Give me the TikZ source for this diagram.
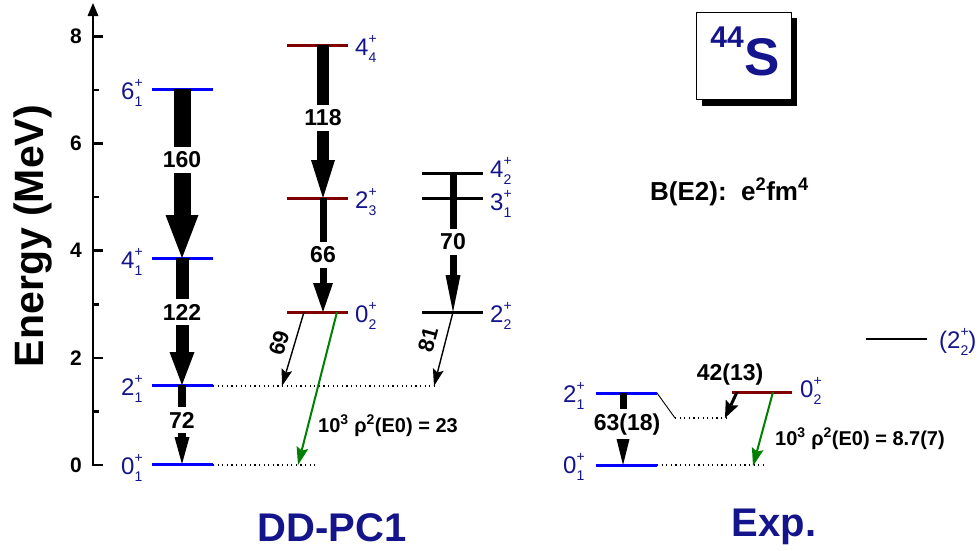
\documentclass[tikz,border=0pt]{standalone}
\usepackage{fontspec}
\setmainfont{Liberation Sans}
\usetikzlibrary{arrows.meta}
\definecolor{navy}{RGB}{20,20,140}
\definecolor{lvblue}{RGB}{0,0,255}
\definecolor{lvred}{RGB}{128,0,0}
\definecolor{lvgreen}{RGB}{0,128,0}
\newcommand\fs[1]{\fontsize{#1}{#1}\selectfont}
\newcommand\lv[2]{#1\rlap{\raisebox{0.48em}{\fs{14}+}}\raisebox{-0.3em}{\fs{14}#2}}
\tikzset{
  axisline/.style={line width=2.6pt},
  ticklbl/.style={font=\fs{21}\bfseries, inner sep=0pt, anchor=east},
  bluelvl/.style={lvblue, line width=3pt},
  redlvl/.style={lvred, line width=3pt},
  blacklvl/.style={black, line width=3pt},
  lbl/.style={text=navy, font=\fs{24}, inner sep=0pt, anchor=base west},
  alab/.style={fill=white, font=\fs{23}\bfseries, inner xsep=1pt, inner ysep=4.5pt},
  barrow/.style n args={3}{draw=black, line width=#1, -{Triangle[width=#2,length=#3,line width=0pt]}},
  thinarr/.style={draw=black, line width=1.4pt, -{Stealth[width=11pt,length=17pt,inset=3pt,line width=0pt]}},
  greenarr/.style={draw=lvgreen, line width=2pt, -{Stealth[width=12pt,length=18pt,inset=3pt,line width=0pt]}},
  dots/.style={line width=1.2pt, dash pattern=on 1.2pt off 3.4pt},
  titlelbl/.style={text=navy, font=\fs{40}\bfseries, inner sep=0pt, anchor=base},
}
\begin{document}
\begin{tikzpicture}[x=1pt,y=-1pt]
\useasboundingbox (0,0) rectangle (979,550);

% axis
\coordinate (ax0) at (93,466);
\coordinate (axtop) at (93,3);
\draw[axisline, -{Triangle[width=11pt,length=13pt,line width=0pt]}] (ax0) -- (axtop);
\foreach \e in {0,2,4,6,8}{
  \draw[axisline] (93,{465-53.6*\e}) -- (103,{465-53.6*\e});
  \node[ticklbl] (tk\e) at (82,{465-53.6*\e}) {\e};
}
\foreach \e in {1,3,5,7}{
  \draw[axisline] (93,{465-53.6*\e}) -- (99,{465-53.6*\e});
}
\node[rotate=90, anchor=base, inner sep=0pt, font=\fs{41}\bfseries] (ylab) at (43,236) {Energy (MeV)};

% ---- DD-PC1 column 1 (blue)
\coordinate (a61) at (182,89);
\coordinate (a41) at (182,258);
\coordinate (a21) at (182,385);
\coordinate (a01) at (182,464);
\draw[bluelvl] (152,89) -- (213,89);
\draw[bluelvl] (152,258) -- (213,258);
\draw[bluelvl] (152,385) -- (213,385);
\draw[bluelvl] (152,464) -- (213,464);
\node[lbl] (l61) at (121,99) {\lv{6}{1}};
\node[lbl] (l41) at (121,268) {\lv{4}{1}};
\node[lbl] (l21) at (121,395) {\lv{2}{1}};
\node[lbl] (l01) at (121,474) {\lv{0}{1}};

% ---- column 2 (dark red)
\coordinate (a44) at (323,45);
\coordinate (a23) at (323,198);
\coordinate (a02) at (323,312);
\draw[redlvl] (287,45) -- (348,45);
\draw[redlvl] (287,198) -- (348,198);
\draw[redlvl] (287,312) -- (348,312);
\node[lbl] (l44) at (355,55) {\lv{4}{4}};
\node[lbl] (l23) at (355,208) {\lv{2}{3}};
\node[lbl] (l02) at (355,322) {\lv{0}{2}};

% ---- column 3 (black)
\coordinate (a42) at (453,173);
\coordinate (a22) at (453,312);
\draw[blacklvl] (422,173) -- (483,173);
\draw[blacklvl] (422,198) -- (483,198);
\draw[blacklvl] (422,312) -- (483,312);
\node[lbl] (l42) at (490,177) {\lv{4}{2}};
\node[lbl] (l31) at (490,210) {\lv{3}{1}};
\node[lbl] (l22) at (490,322) {\lv{2}{2}};

% dotted guides
\coordinate (d21a) at (213,386);
\coordinate (d21b) at (282,386);
\coordinate (d21c) at (434,386);
\coordinate (d01a) at (213,465);
\coordinate (d01b) at (298,465);
\coordinate (d01c) at (318,465);
\draw[dots] (d21a) -- (d21c);
\draw[dots] (d01a) -- (d01c);

% block arrows
\draw[barrow={17pt}{33pt}{43pt}] (a61) -- (a41);
\draw[barrow={13pt}{25pt}{33pt}] (a41) -- (a21);
\draw[barrow={8pt}{15pt}{27pt}] (a21) -- (a01);
\draw[barrow={12pt}{24pt}{38pt}] (a44) -- (a23);
\draw[barrow={7pt}{20pt}{29pt}] (a23) -- (a02);
\draw[barrow={7pt}{15pt}{37pt}] (a42) -- (a22);
\node[alab] (b160) at (182,160) {160};
\node[alab] (b122) at (182,312) {122};
\node[alab] (b72) at (182,420) {72};
\node[alab] (b118) at (323,118) {118};
\node[alab] (b66) at (323,255) {66};
\node[alab] (b70) at (453,242) {70};

% thin arrows
\coordinate (s69) at (304,312);
\coordinate (s81) at (453,312);
\coordinate (sE0) at (337,312);
\draw[thinarr] (s69) -- (d21b);
\draw[thinarr] (s81) -- (d21c);
\draw[greenarr] (sE0) -- (d01b);
\node[font=\fs{22}\bfseries, rotate=74, inner sep=0pt] (b69) at (279,343) {69};
\node[font=\fs{22}\bfseries, rotate=75, inner sep=0pt] (b81) at (428,340) {81};
\node[font=\fs{20}\bfseries, anchor=base west, inner sep=0pt] (e0a) at (318,432) {10\textsuperscript{3} ρ\textsuperscript{2}(E0) = 23};

% ---- Experiment
\coordinate (x21) at (623,393);
\coordinate (x01) at (623,465);
\coordinate (x02) at (737,392);
\coordinate (x02g) at (773,392);
\draw[bluelvl] (596,393) -- (657,393);
\draw[bluelvl] (596,465) -- (657,465);
\draw[redlvl] (732,392) -- (792,392);
\draw[black, line width=2.5pt] (866,339) -- (927,339);
\node[lbl] (xl21) at (563,402) {\lv{2}{1}};
\node[lbl] (xl01) at (563,473) {\lv{0}{1}};
\node[lbl] (xl02) at (800,397) {\lv{0}{2}};
\node[lbl] (xl22) at (939,348) {(\lv{2}{2})};

\coordinate (xe) at (657,393);
\coordinate (xk) at (675,418);
\coordinate (xd) at (727,418);
\coordinate (xq) at (725,418);
\coordinate (xg0) at (657,465);
\coordinate (xg1) at (753,466);
\coordinate (xg2) at (763,465);
\draw[line width=0.9pt] (xe) -- (xk);
\draw[dots] (xk) -- (xd);
\draw[dots] (xg0) -- (xg2);

\draw[barrow={7pt}{14pt}{28pt}] (x21) -- (x01);
\node[alab, anchor=base] (b63) at (627,430) {63(18)};
\draw[draw=black, line width=3pt, -{Stealth[width=14pt,length=17pt,inset=3pt,line width=0pt]}] (x02) -- (xq);
\node[font=\fs{23}\bfseries, anchor=base, inner sep=0pt] (b42) at (730,380) {42(13)};
\draw[greenarr] (x02g) -- (xg1);
\node[font=\fs{20}\bfseries, anchor=base west, inner sep=0pt] (e0b) at (775,445) {10\textsuperscript{3} ρ\textsuperscript{2}(E0) = 8.7(7)};

% ---- title box
\fill[black] (702,18) rectangle (797,106);
\draw[fill=white, line width=0.8pt] (696,12) rectangle (791,99);
\node[text=navy, font=\fs{53}\bfseries, anchor=base west, inner sep=0pt] (S) at (744,75) {S};
\node[text=navy, font=\fs{30}\bfseries, anchor=base east, inner sep=0pt] (A44) at (744,47) {44};

\node[font=\fs{26}\bfseries, anchor=base west, inner sep=0pt] (be2) at (650,200) {B(E2):\ \ e\textsuperscript{2}fm\textsuperscript{4}};

% titles
\node[titlelbl] (dd) at (332,541) {DD-PC1};
\node[titlelbl] (ex) at (774,536) {Exp.};
\end{tikzpicture}
\end{document}
